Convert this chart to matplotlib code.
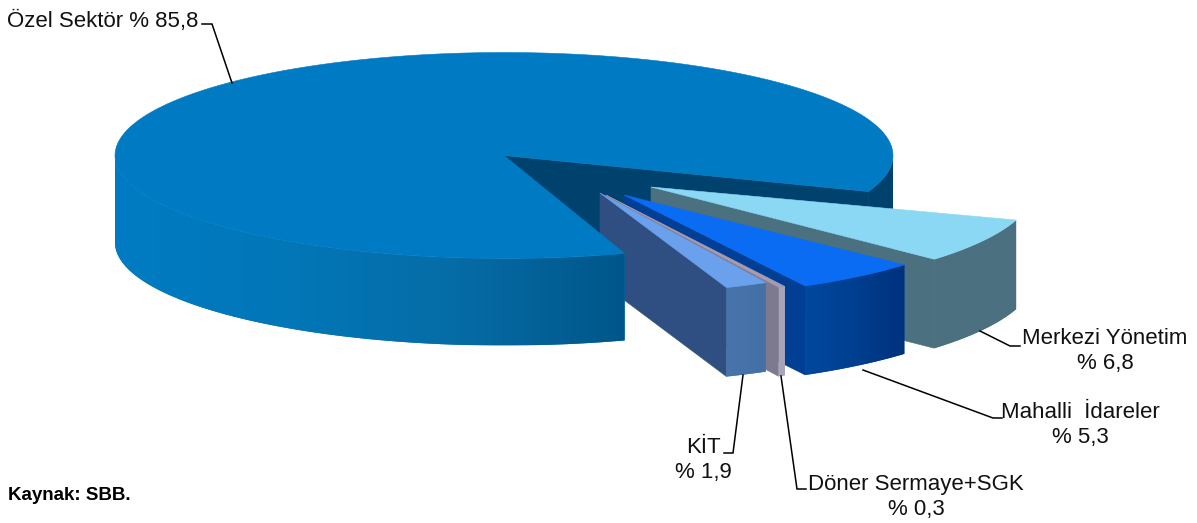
import numpy as np
import matplotlib
matplotlib.use("Agg")
import matplotlib.pyplot as plt
from matplotlib.colors import LinearSegmentedColormap
from matplotlib.patches import Polygon

plt.rcParams['font.family'] = ['Liberation Sans', 'DejaVu Sans']

# shares, clockwise from the right edge of the big slice
labels = ['Merkezi Yönetim', 'Mahalli  İdareler', 'Döner Sermaye+SGK', 'KİT']
values = [6.8, 5.3, 0.3, 1.9]
main_label = 'Özel Sektör'
main_value = 85.8
source = 'Kaynak: SBB.'

MAIN_START = -20.5
SLICE_START = -18.0
MAIN_DEPTH = 87
SLICE_DEPTH = 89
MAIN = (504, 155.5, 389, 103)

# apex x, apex y, rx, ry of the pulled out slices
slice_geom = [(651, 187, 384, 107), (624, 195, 380, 103.5),
              (606, 195, 375, 104), (600, 193, 360, 101)]
top_colors = ['#8AD8F3', '#0A6CF2', '#A79BB2', '#6AA0EC']
face_colors = ['#4B7080', '#003F94', '#7D7A90', '#2F4F82']
wall_colors = [['#4B7080', '#4B7080'], ['#00489E', '#003F90', '#00317C'],
               ['#A8A4B8', '#A8A4B8'], ['#4874AC', '#4470A6']]
main_wall_colors = ['#007BC3', '#0277B8', '#066CA6', '#00568A']
label_pos = [(1105, 351.5), (1080, 425.5), (916, 497), (703, 460)]
leaders = [[(980, 331), (1010, 346), (1020, 346)],
           [(863, 370), (993, 418), (1002, 418)],
           [(781, 376), (797, 489), (806, 489)],
           [(743, 375), (733, 453), (724, 453)]]


def arc(geom, a1, a2, n=80):
    cx, cy, rx, ry = geom
    t = np.radians(np.linspace(a1, a2, n))
    return cx + rx * np.cos(t), cy - ry * np.sin(t)


def next_z():
    ax.zcount += 1
    return ax.zcount


def wall(geom, a1, a2, colors, depth):
    # outer rim of a slice, gradient runs left to right and is clipped to the rim
    x, y = arc(geom, a1, a2, 120)
    xy = np.c_[np.r_[x, x[::-1]], np.r_[y, y[::-1] + depth]]
    z = next_z()
    poly = Polygon(xy, closed=True, fc=colors[0], ec='none', zorder=z)
    ax.add_patch(poly)
    cmap = LinearSegmentedColormap.from_list('rim', colors)
    im = ax.imshow(np.linspace(0, 1, 256).reshape(1, -1), cmap=cmap, aspect='auto', zorder=z,
                   extent=(x.min(), x.max(), y.max() + depth, y.min()))
    im.set_clip_path(poly)


def top(geom, a1, a2, color):
    x, y = arc(geom, a1, a2, 240)
    ax.fill(np.r_[geom[0], x], np.r_[geom[1], y], color=color, lw=0.4, zorder=next_z())


def flat(xs, ys, color):
    ax.fill(xs, ys, color=color, lw=0.4, zorder=next_z())


fig = plt.figure(figsize=(11.97, 5.23), dpi=100)
ax = fig.add_axes([0, 0, 1, 1])
ax.zcount = 1

total = main_value + sum(values)
sweeps = [v / total * 360 for v in values]
main_end = MAIN_START + main_value / total * 360

# inside of the big slice seen through the gap
dark = '#00426E'
ex, ey = arc(MAIN, MAIN_START, MAIN_START, 1)
flat([MAIN[0], ex[0], ex[0], MAIN[0]],
     [MAIN[1], ey[0], ey[0] + MAIN_DEPTH, MAIN[1] + MAIN_DEPTH], dark)
wall(MAIN, MAIN_START, 0, [dark, dark], MAIN_DEPTH)

# pulled out slices, back to front
a = SLICE_START
for i in range(len(values)):
    g = slice_geom[i]
    b = a - sweeps[i]
    px, py = arc(g, b, b, 1)
    flat([g[0], px[0], px[0], g[0]],
         [g[1], py[0], py[0] + SLICE_DEPTH, g[1] + SLICE_DEPTH], face_colors[i])
    wall(g, b, a, wall_colors[i], SLICE_DEPTH)
    top(g, b, a, top_colors[i])
    a = b

# big slice goes last, it hides the apex of the KİT slice
wall(MAIN, -180, main_end - 360, main_wall_colors, MAIN_DEPTH)
top(MAIN, MAIN_START, main_end, '#007BC3')

for pts in leaders + [[(232, 83), (212, 24), (202, 24)]]:
    ax.plot(*zip(*pts), color='black', lw=1.1, zorder=next_z(), solid_joinstyle='miter')

fs = 16
ax.text(7, 21, f"{main_label} % {main_value}".replace('.', ','), fontsize=fs,
        ha='left', va='center', color='#111111', zorder=next_z())
for name, v, pos in zip(labels, values, label_pos):
    ax.text(pos[0], pos[1], f"{name}\n% {v}".replace('.', ','), fontsize=fs, ha='center',
            va='center', linespacing=1.25, color='#111111', zorder=next_z())
ax.text(8, 495, source, fontsize=13.5, fontweight='bold', ha='left', va='center', color='black')

ax.set_xlim(0, 1197)
ax.set_ylim(523, 0)
ax.axis('off')

fig.savefig('out.png', dpi=100, facecolor='white')
